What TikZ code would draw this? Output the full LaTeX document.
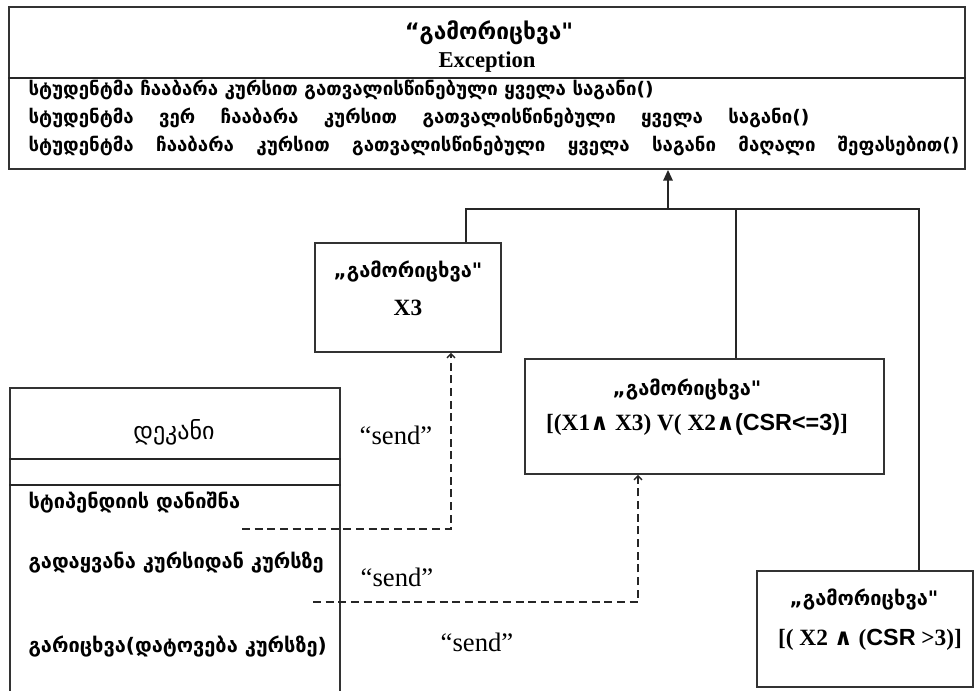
\documentclass[tikz,border=0pt]{standalone}
\usepackage{fontspec}
\setmainfont{Liberation Serif}
\setsansfont{Liberation Sans}
\newfontfamily\geo{DejaVu Sans}
\newfontfamily\sym{DejaVu Sans}
\usepackage{tikz}
\usetikzlibrary{arrows.meta, calc}

\newcommand\wideskip[1]{\spaceskip=#1 plus 1pt\relax}

\begin{document}
\begin{tikzpicture}[x=0.75pt, y=-0.75pt, thick,
  box/.style={draw=black!80, line width=1.3pt, inner sep=0pt},
  georow/.style={anchor=base west, inner sep=0pt, font=\geo\bfseries\fontsize{14}{16}\selectfont},
  deanop/.style={anchor=base west, inner sep=0pt, font=\geo\bfseries\fontsize{15}{17}\selectfont},
  geotitle/.style={inner sep=0pt, font=\geo\bfseries\fontsize{15}{17}\selectfont},
  formula/.style={inner sep=0pt, font=\bfseries\fontsize{17.5}{20}\selectfont},
  sendlbl/.style={inner sep=0pt, font=\fontsize{20}{22}\selectfont},
  msg/.style={draw=black!85, line width=1pt, dash pattern=on 6pt off 3.5pt,
    -{Straight Barb[length=3pt,width=6pt]}},
  link/.style={draw=black!85, line width=1.3pt}]

\clip (0,0) rectangle (975,690);

% Exception class at the top
\node[box, minimum width=717pt, minimum height=121.5pt] (exc) at (487,88) {};
\draw[link] (exc.west |- 0,78) -- (exc.east |- 0,78);
\node[geotitle, font=\geo\bfseries\fontsize{17}{19}\selectfont] (excname) at (489,33) {“გამორიცხვა"};
\node[inner sep=0pt, font=\bfseries\fontsize{17}{19}\selectfont] (exctype) at (487,62) {Exception};
\node[georow] (m1) at (28,95) {სტუდენტმა ჩააბარა კურსით გათვალისწინებული ყველა საგანი()};
\node[georow] (m2) at (28,123) {\wideskip{19pt}სტუდენტმა ვერ ჩააბარა კურსით გათვალისწინებული ყველა საგანი()};
\node[georow] (m3) at (28,151) {\wideskip{16.8pt}სტუდენტმა ჩააბარა კურსით გათვალისწინებული ყველა საგანი მაღალი შეფასებით()};

% Subclasses
\node[box, minimum width=139.5pt, minimum height=81.75pt] (x3) at (408,297.5) {};
\node[geotitle] (x3name) at (408,272) {„გამორიცხვა"};
\node[formula] (x3rule) at (408,308) {X3};

\node[box, minimum width=269.25pt, minimum height=86.25pt] (mixed) at (704.5,416.5) {};
\node[geotitle] (mixedname) at (687,390) {„გამორიცხვა"};
\node[formula] (mixedrule) at (697,425) {[(X1{\sym∧} X3) V( X2{\sym∧}{\sffamily(CSR<=3)}]};

\node[box, minimum width=162pt, minimum height=87pt] (high) at (865,629) {};
\node[geotitle] (highname) at (864,600) {„გამორიცხვა"};
\node[formula] (highrule) at (870,640) {[( X2 {\sym∧} ({\sffamily CSR} >3)]};

% Dean class, runs off the bottom
\node[box, minimum width=247.5pt, minimum height=234pt] (dean) at (175,544) {};
\draw[link] (dean.west |- 0,459) -- (dean.east |- 0,459);
\draw[link] (dean.west |- 0,485) -- (dean.east |- 0,485);
\node[inner sep=0pt, font=\geo\fontsize{18}{20}\selectfont] (deanname) at (174,432) {დეკანი};
\node[deanop] (op1) at (28,508) {სტიპენდიის დანიშნა};
\node[deanop] (op2) at (28,568) {გადაყვანა კურსიდან კურსზე};
\node[deanop] (op3) at (28,652) {გარიცხვა(დატოვება კურსზე)};

% Generalisation lines
\coordinate (hub) at (668,209);
\coordinate (tap1) at (466,209);
\coordinate (tap2) at (736,209);
\coordinate (tap3) at (919,209);
\draw[link, -{Triangle[length=8pt,width=7pt]}] (hub) -- (hub |- exc.south);
\draw[link] (tap1 |- x3.north) -- (tap1) -- (tap3) -- (tap3 |- high.north);
\draw[link] (tap2) -- (tap2 |- mixed.north);

% Messages sent by the dean
\coordinate (from1) at (242,529);
\coordinate (from2) at (313,602);
\draw[msg] (from1) -| ($(x3.south)+(43,0)$);
\draw[msg] (from2) -| ($(mixed.south)+(-66.5,0)$);
\node[sendlbl] (send1) at (396,435) {“send”};
\node[sendlbl] (send2) at (397,577) {“send”};
\node[sendlbl] (send3) at (477,642) {“send”};
\end{tikzpicture}
\end{document}
